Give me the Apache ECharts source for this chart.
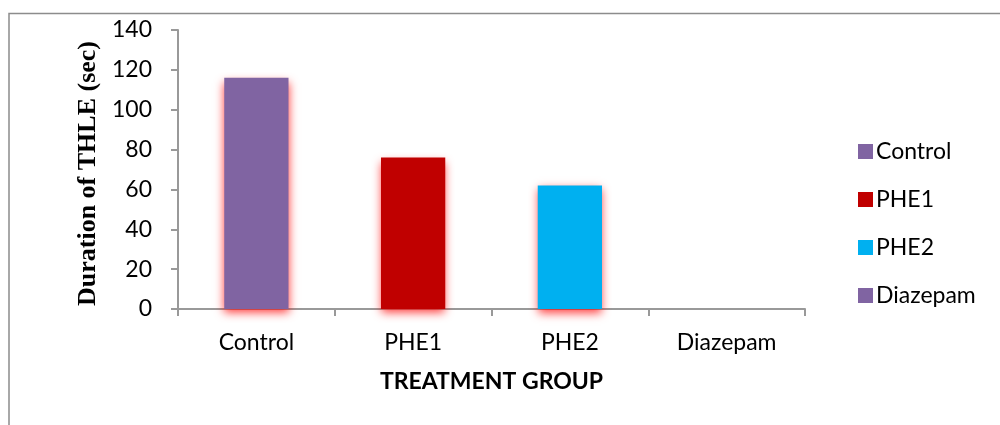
<!DOCTYPE html>
<html>
<head>
<meta charset="utf-8">
<script src="https://cdn.jsdelivr.net/npm/echarts@6/dist/echarts.min.js"></script>
<style>
  html, body { margin: 0; padding: 0; background: #fff; }
  #chart { width: 1000px; height: 425px; }
</style>
</head>
<body>
<div id="chart"></div>
<script>
// Treatment groups and mean duration of tonic hind-limb extension (sec)
const groups = ['Control', 'PHE1', 'PHE2', 'Diazepam'];
const durations = [116, 76, 62, 0];
const groupColors = ['#8064A2', '#C00000', '#00B0F0', '#8064A2'];
const yTicks = [0, 20, 40, 60, 80, 100, 120, 140];

const bodyFont = 'Lato, "Open Sans", sans-serif';

// One stacked series per group so each gets its own legend entry
const series = groups.map((g, i) => ({
  name: g,
  type: 'bar',
  stack: 'all',
  barWidth: '41%',
  data: groups.map((_, j) => (j === i ? durations[j] : '-')),
  itemStyle: {
    color: groupColors[i],
    shadowColor: 'rgba(255, 0, 0, 0.75)',
    shadowBlur: 9,
    shadowOffsetY: 4
  },
  emphasis: { disabled: true }
}));

const chart = echarts.init(document.getElementById('chart'), null, { renderer: 'canvas' });
chart.setOption({
  animation: false,
  backgroundColor: '#fff',
  graphic: [{
    type: 'rect',
    shape: { x: 9, y: 13.5, width: 1100, height: 600 },
    style: { fill: 'none', stroke: '#8c8c8c', lineWidth: 1.5 },
    silent: true
  }],
  grid: { left: 178, right: 195, top: 30, bottom: 116 },
  legend: {
    orient: 'vertical',
    left: 853,
    top: 135,
    itemWidth: 15,
    itemHeight: 15,
    itemGap: 25,
    icon: 'rect',
    textStyle: { fontFamily: bodyFont, fontSize: 23, lineHeight: 23, color: '#000', padding: [0, 0, 0, -2] },
    selectedMode: false
  },
  xAxis: {
    type: 'category',
    data: groups,
    name: 'TREATMENT GROUP',
    nameLocation: 'middle',
    nameGap: 61,
    nameTextStyle: { fontFamily: bodyFont, fontSize: 23, fontWeight: 'bold', color: '#000' },
    axisLine: { lineStyle: { color: '#999', width: 2 } },
    axisTick: { show: true, length: 7, lineStyle: { color: '#999', width: 2 } },
    axisLabel: { fontFamily: bodyFont, fontSize: 23, color: '#000', margin: 22 }
  },
  yAxis: {
    type: 'value',
    min: yTicks[0],
    max: yTicks[yTicks.length - 1],
    interval: 20,
    name: 'Duration of THLE (sec)',
    nameLocation: 'middle',
    nameGap: 75,
    nameTextStyle: {
      fontFamily: '"Liberation Serif", "Times New Roman", serif',
      fontSize: 26, fontWeight: 'bold', color: '#000',
      padding: [0, 8, 0, 0]
    },
    axisLine: { show: true, lineStyle: { color: '#999', width: 2 } },
    axisTick: { show: true, length: 7, lineStyle: { color: '#999', width: 2 } },
    splitLine: { show: false },
    axisLabel: { fontFamily: bodyFont, fontSize: 23, color: '#000', margin: 26 }
  },
  series: series
});
</script>
</body>
</html>
